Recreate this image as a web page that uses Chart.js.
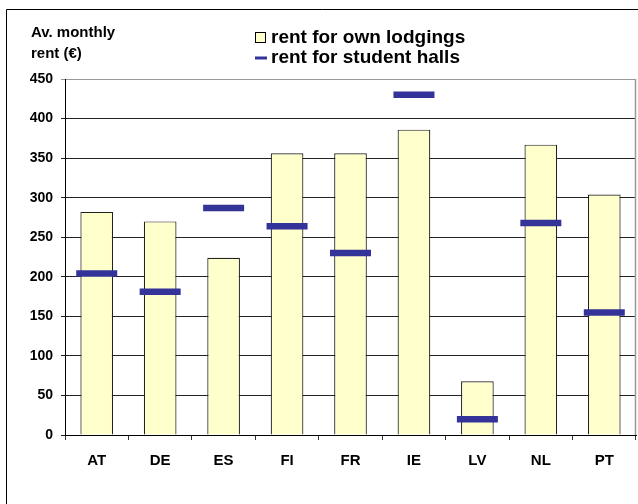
<!DOCTYPE html>
<html><head><meta charset="utf-8">
<script src="https://cdn.jsdelivr.net/npm/chart.js@4"></script>
<style>html,body{margin:0;padding:0;background:#fff}#wrap{width:638px;height:504px;position:relative}</style>
</head><body><div id="wrap"><canvas id="c" width="638" height="504"></canvas></div>
<script>
const categories = ["AT","DE","ES","FI","FR","IE","LV","NL","PT"];
const ownLodgings = [282, 270, 224, 356, 356, 386, 68, 367, 304];
const studentHalls = [204, 181, 287, 264, 230, 430, 20, 268, 155];
const yTitle = ["Av. monthly", "rent (€)"];
const legendLabels = ["rent for own lodgings", "rent for student halls"];
const FONT = "'Liberation Sans', Arial, sans-serif";

const decor = {
  id: 'decor',
  beforeDraw(chart) {
    const ctx = chart.ctx;
    ctx.save();
    ctx.fillStyle = '#fff';
    ctx.fillRect(0, 0, chart.width, chart.height);
    ctx.strokeStyle = '#000';
    ctx.lineWidth = 1;
    ctx.beginPath();
    ctx.moveTo(6.5, 520); ctx.lineTo(6.5, 9.5); ctx.lineTo(700, 9.5);
    ctx.stroke();
    ctx.restore();
  },
  afterDraw(chart) {
    const ctx = chart.ctx;
    const a = chart.chartArea;
    ctx.save();
    ctx.strokeStyle = '#999';
    ctx.lineWidth = 1.5;
    ctx.beginPath();
    ctx.moveTo(a.right - 0.5, a.top); ctx.lineTo(a.right - 0.5, a.bottom);
    ctx.stroke();
    // y title
    ctx.fillStyle = '#000';
    ctx.font = 'bold 15px ' + FONT;
    ctx.textBaseline = 'middle';
    ctx.textAlign = 'left';
    ctx.fillText(yTitle[0], 31, 33);
    ctx.fillText(yTitle[1], 31, 54);
    // legend
    ctx.fillStyle = '#FFFFCC';
    ctx.fillRect(255.5, 32.5, 10, 10);
    ctx.strokeStyle = '#000';
    ctx.lineWidth = 1;
    ctx.strokeRect(255.5, 32.5, 10, 10);
    ctx.strokeStyle = '#333399';
    ctx.lineWidth = 3;
    ctx.beginPath(); ctx.moveTo(255, 58); ctx.lineTo(267, 58); ctx.stroke();
    ctx.fillStyle = '#000';
    ctx.font = 'bold 19px ' + FONT;
    ctx.fillText(legendLabels[0], 271, 38);
    ctx.fillText(legendLabels[1], 271, 58);
    ctx.restore();
  }
};

new Chart(document.getElementById('c'), {
  type: 'bar',
  data: {
    labels: categories,
    datasets: [
      {
        label: legendLabels[0],
        data: ownLodgings,
        backgroundColor: '#FFFFCC',
        borderColor: '#222',
        borderWidth: 1.2,
        categoryPercentage: 1.0,
        barPercentage: 0.515,
        order: 2
      },
      {
        type: 'line',
        label: legendLabels[1],
        data: studentHalls,
        showLine: false,
        pointStyle: 'line',
        pointRadius: 20.5,
        pointHoverRadius: 20.5,
        pointBorderWidth: 6.5,
        pointHoverBorderWidth: 6.5,
        borderColor: '#333399',
        backgroundColor: '#333399',
        order: 1
      }
    ]
  },
  options: {
    responsive: false,
    animation: false,
    devicePixelRatio: 1,
    events: [],
    layout: { autoPadding: false, padding: { left: 0, top: 79, right: 2, bottom: 0 } },
    plugins: { legend: { display: false }, tooltip: { enabled: false } },
    scales: {
      x: {
        grid: { offset: true, drawOnChartArea: false, drawTicks: true, tickLength: 5, color: '#333' },
        border: { color: '#000', width: 1 },
        ticks: { color: '#000', font: { family: FONT, weight: 'bold', size: 15 }, padding: 12 },
        afterFit(s) { s.height = 69; }
      },
      y: {
        min: 0, max: 450,
        grid: { color: (c) => c.tick && c.tick.value === 450 ? '#999' : '#222', lineWidth: 1, tickLength: 4, drawTicks: true },
        border: { color: '#000', width: 1 },
        ticks: { stepSize: 50, color: '#000', font: { family: FONT, weight: 'bold', size: 14 }, padding: 8 },
        afterFit(s) { s.width = 65; }
      }
    }
  },
  plugins: [decor]
});
</script></body></html>
